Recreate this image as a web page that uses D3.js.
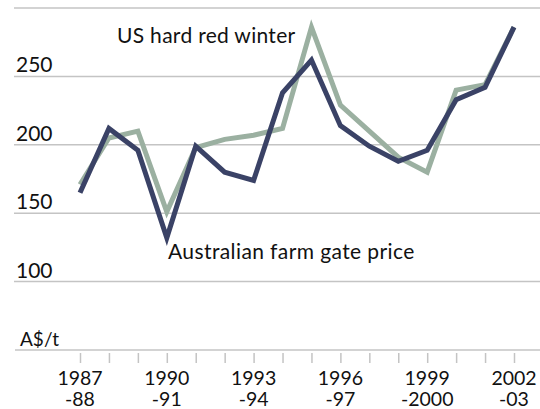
<!DOCTYPE html>
<html>
<head>
<meta charset="utf-8">
<script src="https://cdn.jsdelivr.net/npm/d3@7"></script>
<style>
  body { margin: 0; background: #fff; }
  text { font-family: Lato, "DejaVu Sans", sans-serif; fill: #111; }
</style>
</head>
<body>
<div id="chart"></div>
<script>
// financial years, first line / second line of each tick label
var yearTop = ["1987", "", "", "1990", "", "", "1993", "", "", "1996", "", "", "1999", "", "", "2002"];
var yearBottom = ["-88", "", "", "-91", "", "", "-94", "", "", "-97", "", "", "-2000", "", "", "-03"];

// A$/t
var usHardRed = [171, 205, 210, 151, 198, 204, 207, 212, 286, 229, 210, 191, 180, 240, 244, 286];
var ausFarmGate = [165, 212, 196, 132, 199, 180, 174, 238, 262, 214, 199, 188, 196, 233, 242, 286];

var yTicks = [100, 150, 200, 250, 300];

var width = 540, height = 409;

var svg = d3.select("#chart")
  .append("svg")
  .attr("width", width)
  .attr("height", height);

var x = d3.scaleLinear()
  .domain([0, 15])
  .range([80, 514]);

var y = d3.scaleLinear()
  .domain([50, 300])
  .range([350, 8]);

// gridlines
svg.append("g")
  .selectAll("line")
  .data(yTicks)
  .enter()
  .append("line")
  .attr("x1", 14)
  .attr("x2", width)
  .attr("y1", function (d) { return y(d); })
  .attr("y2", function (d) { return y(d); })
  .style("stroke", "#c4c4c4")
  .style("stroke-width", 1.5);

// y labels sit on top of the gridlines
svg.append("g")
  .selectAll("text")
  .data(yTicks.filter(function (d) { return d < 300; }))
  .enter()
  .append("text")
  .attr("x", 16)
  .attr("y", function (d) { return y(d) - 4; })
  .text(function (d) { return d; })
  .style("font-size", "21px");

svg.append("text")
  .attr("x", 20)
  .attr("y", y(50) - 4)
  .text("A$/t")
  .style("font-size", "19px");

// x axis
var xAxis = d3.axisBottom(x)
  .tickValues(d3.range(16))
  .tickSize(10)
  .tickSizeOuter(0)
  .tickFormat("");

var gx = svg.append("g")
  .attr("transform", "translate(0," + y(50) + ")")
  .call(xAxis);
gx.select(".domain").remove();
gx.selectAll(".tick line").style("stroke", "#c4c4c4").style("stroke-width", 1.5)
  .attr("y1", 3).attr("y2", 13);

svg.append("line")
  .attr("x1", 15).attr("x2", width)
  .attr("y1", y(50)).attr("y2", y(50))
  .style("stroke", "#c4c4c4")
  .style("stroke-width", 1.5);

var lbl = svg.append("g")
  .selectAll("text")
  .data(d3.range(16).filter(function (i) { return yearTop[i] != ""; }))
  .enter()
  .append("text")
  .attr("text-anchor", "middle")
  .style("font-size", "19.5px");
lbl.append("tspan")
  .attr("x", function (i) { return x(i); })
  .attr("y", 385)
  .text(function (i) { return yearTop[i]; });
lbl.append("tspan")
  .attr("x", function (i) { return x(i); })
  .attr("y", 406)
  .text(function (i) { return yearBottom[i]; });

// lines
var line = d3.line()
  .x(function (d, i) { return x(i); })
  .y(function (d) { return y(d); });

svg.append("path")
  .datum(usHardRed)
  .attr("d", line)
  .style("fill", "none")
  .style("stroke", "#9bb0a1")
  .style("stroke-width", 5)
  .style("stroke-linejoin", "miter");

svg.append("path")
  .datum(ausFarmGate)
  .attr("d", line)
  .style("fill", "none")
  .style("stroke", "#3a4266")
  .style("stroke-width", 5)
  .style("stroke-linejoin", "miter");

// series labels
svg.append("text")
  .attr("x", 117)
  .attr("y", 43)
  .text("US hard red winter")
  .style("font-size", "21px")
  .style("letter-spacing", "0.3px");

svg.append("text")
  .attr("x", 168)
  .attr("y", 259)
  .text("Australian farm gate price")
  .style("font-size", "21px")
  .style("letter-spacing", "0.4px");
</script>
</body>
</html>
